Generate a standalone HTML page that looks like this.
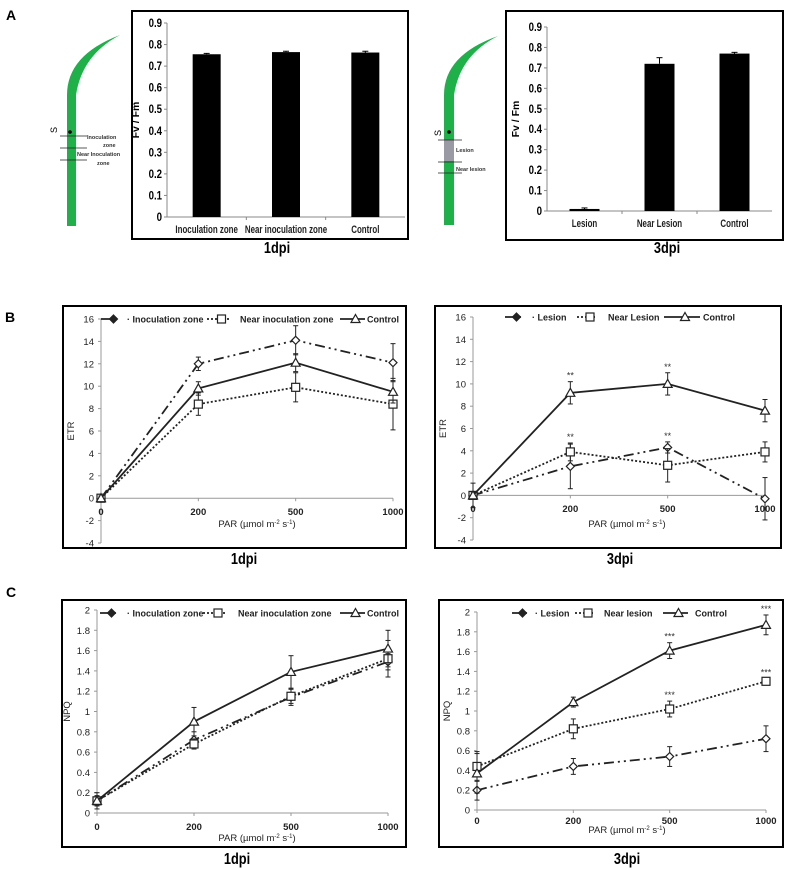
<!DOCTYPE html>
<html><head><meta charset="utf-8"><style>
html,body{margin:0;padding:0;background:#fff;width:787px;height:870px;overflow:hidden}
svg{display:block;font-family:"Liberation Sans",Arial,sans-serif}
</style></head><body>
<svg id="fig" width="787" height="870" viewBox="0 0 787 870" xmlns="http://www.w3.org/2000/svg">
<text x="6" y="20" font-size="14" font-weight="bold">A</text>
<text x="5" y="322" font-size="14" font-weight="bold">B</text>
<text x="6" y="597" font-size="14" font-weight="bold">C</text>
<g>
<path d="M67 226 L67 95 Q67 55 120 35 Q82 55 76 95 L76 226 Z" fill="#1fb04a"/>
<line x1="60" y1="136" x2="87" y2="136" stroke="#222" stroke-width="0.8"/>
<line x1="60" y1="148" x2="87" y2="148" stroke="#222" stroke-width="0.8"/>
<line x1="60" y1="160" x2="87" y2="160" stroke="#222" stroke-width="0.8"/>
<circle cx="70" cy="132" r="1.8" fill="#000"/>
<text x="0" y="0" font-size="9" transform="translate(57,133) rotate(-90)">S</text>
<text x="87" y="139" font-size="5.5" font-weight="bold" fill="#333">Inoculation</text>
<text x="103" y="147" font-size="5.5" font-weight="bold" fill="#333">zone</text>
<text x="77" y="156" font-size="5.5" font-weight="bold" fill="#333">Near Inoculation</text>
<text x="97" y="165" font-size="5.5" font-weight="bold" fill="#333">zone</text>
</g>
<g>
<path d="M444 225 L444 95 Q444 55 498 36 Q460 55 454 95 L454 225 Z" fill="#1fb04a"/>
<rect x="444" y="140" width="10" height="21" fill="#9a9aa4"/>
<line x1="438" y1="140" x2="462" y2="140" stroke="#222" stroke-width="0.8"/>
<line x1="438" y1="162" x2="462" y2="162" stroke="#222" stroke-width="0.8"/>
<line x1="438" y1="173" x2="462" y2="173" stroke="#222" stroke-width="0.8"/>
<circle cx="449" cy="132" r="1.8" fill="#000"/>
<text x="0" y="0" font-size="9" transform="translate(441,136) rotate(-90)">S</text>
<text x="456" y="152" font-size="5.5" font-weight="bold" fill="#333">Lesion</text>
<text x="456" y="171" font-size="5.5" font-weight="bold" fill="#333">Near lesion</text>
</g>
</svg>
<script>
// ---- Panel A data ----
const barCats1 = ["Inoculation zone","Near inoculation zone","Control"];
const barVals1 = [0.755,0.765,0.763];
const barErr1 = [0.004,0.004,0.006];
const barCats3 = ["Lesion","Near Lesion","Control"];
const barVals3 = [0.01,0.72,0.77];
const barErr3 = [0.005,0.03,0.006];
const barTicks = ["0","0.1","0.2","0.3","0.4","0.5","0.6","0.7","0.8","0.9"];
// ---- Panel B / C data ----
const parLabels = ["0","200","500","1000"];
const etrTicks = [-4,-2,0,2,4,6,8,10,12,14,16];
const npqTicks = [0,0.2,0.4,0.6,0.8,1,1.2,1.4,1.6,1.8,2];
const etr1Inoc = [0,12.0,14.1,12.1];
const etr1InocErr = [0.2,0.6,1.3,1.7];
const etr1Near = [0,8.4,9.9,8.4];
const etr1NearErr = [0.2,1.0,1.3,2.3];
const etr1Ctrl = [0,9.8,12.1,9.5];
const etr1CtrlErr = [0.2,0.6,0.8,1.0];
const etr3Lesion = [0,2.6,4.3,-0.3];
const etr3LesionErr = [0.3,2.0,0.5,1.9];
const etr3Near = [0,3.9,2.7,3.9];
const etr3NearErr = [1.1,0.8,1.5,0.9];
const etr3Ctrl = [0,9.2,10.0,7.6];
const etr3CtrlErr = [0.3,1.0,1.0,1.0];
const npq1Inoc = [0.12,0.72,1.14,1.49];
const npq1InocErr = [0.05,0.08,0.08,0.08];
const npq1Near = [0.12,0.68,1.15,1.52];
const npq1NearErr = [0.05,0.05,0.07,0.18];
const npq1Ctrl = [0.12,0.9,1.39,1.62];
const npq1CtrlErr = [0.08,0.14,0.16,0.18];
const npq3Lesion = [0.2,0.44,0.54,0.72];
const npq3LesionErr = [0.1,0.08,0.1,0.13];
const npq3Near = [0.44,0.82,1.02,1.3];
const npq3NearErr = [0.15,0.1,0.08,0.03];
const npq3Ctrl = [0.37,1.09,1.61,1.87];
const npq3CtrlErr = [0.2,0.05,0.08,0.1];
const etr3Stars = {ctrl:["","**","**",""], near:["","**","",""], lesion:["","","**",""]};
const npq3Stars = {ctrl:["","","***","***"], near:["","","***","***"], lesion:["","","",""]};

const NS="http://www.w3.org/2000/svg";
const svg=document.getElementById('fig');
function mk(tag,attrs,parent){const e=document.createElementNS(NS,tag);for(const k in attrs)e.setAttribute(k,attrs[k]);(parent||svg).appendChild(e);return e;}
function txt(s,x,y,size,anchor,parent,extra){const t=mk('text',Object.assign({x:x,y:y,'font-size':size,'text-anchor':anchor||'start'},extra||{}),parent);t.textContent=s;return t;}
function narrow(t,f){const l=t.getComputedTextLength();if(l>0){t.setAttribute('textLength',(l*f).toFixed(1));t.setAttribute('lengthAdjust','spacingAndGlyphs');}}

function barChart(name,box,ax,cats,vals,errs,title){
  const g=mk('g',{});
  
  
  mk('rect',{x:box.x,y:box.y,width:box.w,height:box.h,fill:'none',stroke:'#000','stroke-width':2},g);
  const y=v=>ax.y0+(ax.y9-ax.y0)*v/0.9;
  mk('line',{x1:ax.x,y1:ax.y0,x2:ax.x,y2:ax.y9,stroke:'#888','stroke-width':1},g);
  mk('line',{x1:ax.x,y1:ax.y0,x2:ax.xe,y2:ax.y0,stroke:'#888','stroke-width':1},g);
  barTicks.forEach((t,i)=>{const v=parseFloat(t);mk('line',{x1:ax.x-3,x2:ax.x,y1:y(v),y2:y(v),stroke:'#888'},g);
    const tl=txt(t,ax.x-5,y(v)+4,12,'end',g,{'font-weight':'bold'});narrow(tl,0.8);});
  const step=(ax.xe-ax.x)/cats.length;
  for(let i=1;i<cats.length;i++)mk('line',{x1:ax.x+step*i,x2:ax.x+step*i,y1:ax.y0,y2:ax.y0+3,stroke:'#888'},g);
  const yl=txt('Fv / Fm',0,0,10.5,'middle',g,{'font-weight':'bold',transform:`translate(${ax.x-28},${(ax.y0+ax.y9)/2}) rotate(-90)`});
  
  cats.forEach((c,i)=>{const cx=ax.x+step*(i+0.5);
    const b=mk('rect',{x:cx-ax.bw/2,y:y(vals[i]),width:ax.bw,height:ax.y0-y(vals[i]),fill:'#000'},g);
    
    
    mk('line',{x1:cx,x2:cx,y1:y(vals[i]),y2:y(vals[i]+errs[i]),stroke:'#000'},g);
    mk('line',{x1:cx-3,x2:cx+3,y1:y(vals[i]+errs[i]),y2:y(vals[i]+errs[i]),stroke:'#000'},g);
    const cl=txt(c,cx,ax.y0+16,11,'middle',g,{'font-weight':'bold','fill':'#222'});narrow(cl,0.72);});
  const tt=txt(title,ax.tx,253,16,'middle',g,{'font-weight':'bold'});
  narrow(tt,0.8);
  
}
barChart('bar-chart-1dpi',{x:132,y:11,w:276,h:228},{x:167,xe:405,y0:217,y9:23,bw:28,tx:277},barCats1,barVals1,barErr1,'1dpi');
barChart('bar-chart-3dpi',{x:506,y:11,w:277,h:229},{x:547,xe:772,y0:211,y9:27,bw:30,tx:667},barCats3,barVals3,barErr3,'3dpi');

const DASH={dd:'10 4 2 4 2 4',dot:'2 2',solid:'none'};
function marker(g,type,x,y,filled){
  const f=filled?'#222':'#fff';
  let m;
  if(type==='diamond')m=mk('path',{d:`M${x} ${y-4}L${x+4} ${y}L${x} ${y+4}L${x-4} ${y}Z`,fill:f,stroke:'#222','stroke-width':1.2},g);
  else if(type==='square')m=mk('rect',{x:x-4,y:y-4,width:8,height:8,fill:f,stroke:'#222','stroke-width':1.2},g);
  else m=mk('path',{d:`M${x} ${y-4.5}L${x+4.5} ${y+3.5}L${x-4.5} ${y+3.5}Z`,fill:f,stroke:'#222','stroke-width':1.2},g);
  return m;
}
function lineChart(cfg){
  const g=mk('g',{});
  
  
  mk('rect',{x:cfg.box[0],y:cfg.box[1],width:cfg.box[2],height:cfg.box[3],fill:'none',stroke:'#000','stroke-width':2},g);
  const t0=cfg.ticks[0],t1=cfg.ticks[cfg.ticks.length-1];
  const Y=v=>cfg.yb+(cfg.yt-cfg.yb)*(v-t0)/(t1-t0);
  const X=i=>cfg.x0+(cfg.x1-cfg.x0)*i/(parLabels.length-1);
  mk('line',{x1:cfg.x0,x2:cfg.x0,y1:Y(t0),y2:Y(t1),stroke:'#999'},g);
  mk('line',{x1:cfg.x0,x2:cfg.x1,y1:Y(0),y2:Y(0),stroke:'#999'},g);
  cfg.ticks.forEach(v=>{mk('line',{x1:cfg.x0-3,x2:cfg.x0,y1:Y(v),y2:Y(v),stroke:'#999'},g);
    txt(String(v),cfg.x0-7,Y(v)+3.5,9.5,'end',g,{fill:'#222'});});
  parLabels.forEach((l,i)=>{mk('line',{x1:X(i),x2:X(i),y1:Y(0),y2:Y(0)+3,stroke:'#999'},g);txt(l,X(i),cfg.xly,9.5,'middle',g,{'font-weight':'bold',fill:'#222'});});
  const pl=txt('',cfg.parx,cfg.pary,9.5,'middle',g,{fill:'#222'});
  
  pl.innerHTML='PAR (µmol m<tspan dy="-3" font-size="6">-2</tspan><tspan dy="3"> s</tspan><tspan dy="-3" font-size="6">-1</tspan><tspan dy="3">)</tspan>';
  const yl=txt(cfg.ylabel,0,0,9.5,'middle',g,{fill:'#222',transform:`translate(${cfg.x0-27},${(Y(t0)+Y(t1))/2}) rotate(-90)`});
  
  cfg.series.forEach(s=>{
    const sg=mk('g',{},g);
    
    
    mk('polyline',{points:s.vals.map((v,i)=>X(i)+','+Y(v)).join(' '),fill:'none',stroke:'#222','stroke-width':1.8,'stroke-dasharray':DASH[s.dash]},sg);
    s.vals.forEach((v,i)=>{const e=s.err[i];
      mk('line',{x1:X(i),x2:X(i),y1:Y(v-e),y2:Y(v+e),stroke:'#222'},sg);
      mk('line',{x1:X(i)-2.5,x2:X(i)+2.5,y1:Y(v-e),y2:Y(v-e),stroke:'#222'},sg);
      mk('line',{x1:X(i)-2.5,x2:X(i)+2.5,y1:Y(v+e),y2:Y(v+e),stroke:'#222'},sg);
      const m=marker(sg,s.marker,X(i),Y(v),false);
      
      if(s.stars&&s.stars[i])txt(s.stars[i],X(i),Y(v+e)-3,9,'middle',sg,{fill:'#333'});
    });
  });
  cfg.legend.forEach((L,k)=>{const s=cfg.series[k];
    const lg=mk('g',{},g);
    
    
    mk('line',{x1:L[0],x2:L[1],y1:cfg.ly,y2:cfg.ly,stroke:'#222','stroke-width':1.8,'stroke-dasharray':DASH[s.dash]},lg);
    marker(lg,s.marker,(L[0]+L[1])/2+3,cfg.ly,s.marker==='diamond');
    txt(L[3],L[2],cfg.ly+3.5,9,'start',lg,{fill:'#222','font-weight':'bold'});
  });
  const tt=txt(cfg.title,cfg.tx,cfg.ty,16,'middle',g,{'font-weight':'bold'});
  narrow(tt,0.8);
  
}
lineChart({name:'etr-chart-1dpi',box:[63,306,343,242],x0:101,x1:393,yb:543,yt:319,ticks:etrTicks,ylabel:'ETR',xly:515,parx:257,pary:527,tx:244,ty:564,title:'1dpi',ly:319,
  series:[{key:'inoculation-zone',vals:etr1Inoc,err:etr1InocErr,dash:'dd',marker:'diamond'},{key:'near-inoculation-zone',vals:etr1Near,err:etr1NearErr,dash:'dot',marker:'square'},{key:'control',vals:etr1Ctrl,err:etr1CtrlErr,dash:'solid',marker:'triangle'}],
  legend:[[101,120,127,'· Inoculation zone'],[207,230,240,'Near inoculation zone'],[340,365,367,'Control']]});
lineChart({name:'etr-chart-3dpi',box:[435,306,346,242],x0:473,x1:765,yb:540,yt:317,ticks:etrTicks,ylabel:'ETR',xly:512,parx:627,pary:527,tx:620,ty:564,title:'3dpi',ly:317,
  series:[{key:'lesion',vals:etr3Lesion,err:etr3LesionErr,dash:'dd',marker:'diamond',stars:etr3Stars.lesion},{key:'near-lesion',vals:etr3Near,err:etr3NearErr,dash:'dot',marker:'square',stars:etr3Stars.near},{key:'control',vals:etr3Ctrl,err:etr3CtrlErr,dash:'solid',marker:'triangle',stars:etr3Stars.ctrl}],
  legend:[[505,522,532,'· Lesion'],[577,597,608,'Near Lesion'],[664,700,703,'Control']]});
lineChart({name:'npq-chart-1dpi',box:[62,600,344,247],x0:97,x1:388,yb:813,yt:610,ticks:npqTicks,ylabel:'NPQ',xly:830,parx:257,pary:841,tx:237,ty:864,title:'1dpi',ly:613,
  series:[{key:'inoculation-zone',vals:npq1Inoc,err:npq1InocErr,dash:'dd',marker:'diamond'},{key:'near-inoculation-zone',vals:npq1Near,err:npq1NearErr,dash:'dot',marker:'square'},{key:'control',vals:npq1Ctrl,err:npq1CtrlErr,dash:'solid',marker:'triangle'}],
  legend:[[100,117,127,'· Inoculation zone'],[203,227,238,'Near inoculation zone'],[340,365,367,'Control']]});
lineChart({name:'npq-chart-3dpi',box:[439,600,344,247],x0:477,x1:766,yb:810,yt:612,ticks:npqTicks,ylabel:'NPQ',xly:824,parx:627,pary:833,tx:627,ty:864,title:'3dpi',ly:613,
  series:[{key:'lesion',vals:npq3Lesion,err:npq3LesionErr,dash:'dd',marker:'diamond',stars:npq3Stars.lesion},{key:'near-lesion',vals:npq3Near,err:npq3NearErr,dash:'dot',marker:'square',stars:npq3Stars.near},{key:'control',vals:npq3Ctrl,err:npq3CtrlErr,dash:'solid',marker:'triangle',stars:npq3Stars.ctrl}],
  legend:[[512,527,535,'· Lesion'],[575,595,604,'Near lesion'],[663,688,695,'Control']]});
</script>
</body></html>
